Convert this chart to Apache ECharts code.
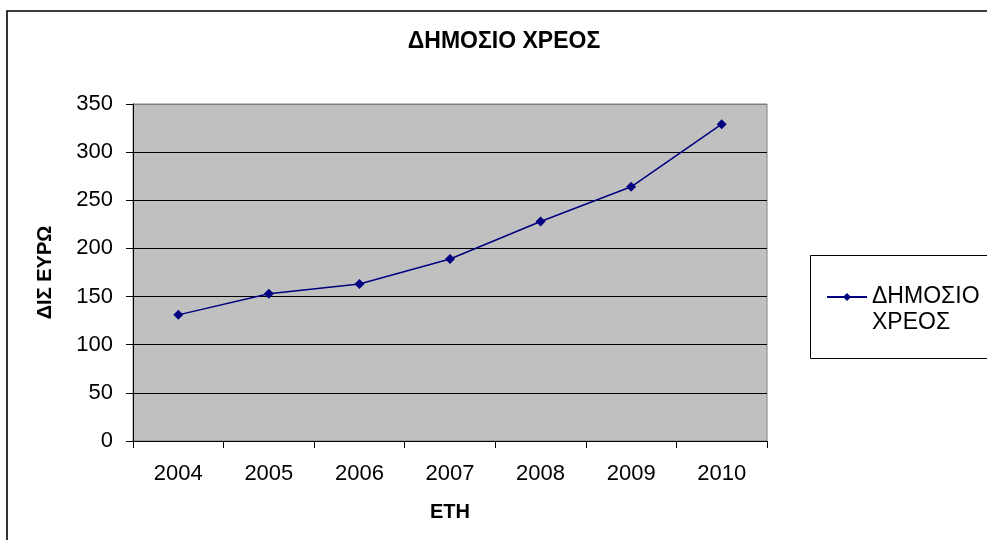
<!DOCTYPE html>
<html>
<head>
<meta charset="utf-8">
<script src="https://cdn.jsdelivr.net/npm/echarts@6/dist/echarts.min.js"></script>
<style>
  html, body { margin: 0; padding: 0; background: #fff; }
  #chart { width: 987px; height: 540px; }
</style>
</head>
<body>
<div id="chart"></div>
<script>
// Public debt, billion euro, by year
const years = ['2004', '2005', '2006', '2007', '2008', '2009', '2010'];
const debt = [131, 153, 163, 189, 228, 264, 329];
const seriesName = 'ΔΗΜΟΣΙΟ ΧΡΕΟΣ';
const yTicks = { min: 0, max: 350, step: 50 };

const FONT = '"Liberation Sans", Arial, sans-serif';
const chart = echarts.init(document.getElementById('chart'), null, { renderer: 'canvas' });

// grid lines: black, except the top one which merges with the plot border
const tickCount = (yTicks.max - yTicks.min) / yTicks.step + 1;
const gridColors = [];
for (let i = 0; i < tickCount; i++) gridColors.push(i === tickCount - 1 ? '#808080' : '#000000');

chart.setOption({
  backgroundColor: '#ffffff',
  animation: false,
  textStyle: { fontFamily: FONT },
  title: {
    text: 'ΔΗΜΟΣΙΟ ΧΡΕΟΣ',
    left: 504,
    top: 30,
    textAlign: 'center',
    padding: 0,
    textStyle: { fontFamily: FONT, fontSize: 23, fontWeight: 'bold', color: '#000' }
  },
  graphic: [
    {
      type: 'rect', z: 0, silent: true,
      shape: { x: 7, y: 11, width: 1000, height: 560 },
      style: { fill: 'none', stroke: '#000', lineWidth: 1.6 }
    },
    {
      type: 'rect', z: 0, silent: true,
      shape: { x: 810.5, y: 255.5, width: 200, height: 103 },
      style: { fill: '#fff', stroke: '#000', lineWidth: 1 }
    }
  ],
  legend: {
    left: 826,
    top: 258,
    padding: 0,
    orient: 'vertical',
    itemWidth: 40,
    itemHeight: 10,
    itemGap: 4,
    // leading blank line keeps the first word level with the legend symbol
    formatter: name => '\n' + name.replace(' ', '\n'),
    textStyle: { fontFamily: FONT, fontSize: 23, color: '#000', lineHeight: 26 },
    data: [seriesName]
  },
  grid: {
    left: 133, right: 220, top: 104, bottom: 99,
    show: true,
    backgroundColor: '#C0C0C0',
    borderColor: '#808080',
    borderWidth: 1
  },
  xAxis: {
    type: 'category',
    data: years,
    boundaryGap: true,
    name: 'ΕΤΗ',
    nameLocation: 'middle',
    nameGap: 61,
    nameTextStyle: { fontFamily: FONT, fontSize: 20, fontWeight: 'bold', color: '#000' },
    axisLine: { show: true, lineStyle: { color: '#000', width: 1 } },
    axisTick: { show: true, length: 7, interval: 0, lineStyle: { color: '#000' } },
    axisLabel: { margin: 22, fontFamily: FONT, fontSize: 22, color: '#000', interval: 0 },
    splitLine: { show: false }
  },
  yAxis: {
    type: 'value',
    min: yTicks.min,
    max: yTicks.max,
    interval: yTicks.step,
    name: 'ΔΙΣ ΕΥΡΩ',
    nameLocation: 'middle',
    nameGap: 78,
    nameRotate: 90,
    nameTextStyle: { fontFamily: FONT, fontSize: 20, fontWeight: 'bold', color: '#000' },
    axisLine: { show: true, lineStyle: { color: '#000', width: 1 } },
    axisTick: { show: true, length: 7, lineStyle: { color: '#000' } },
    axisLabel: { margin: 20, fontFamily: FONT, fontSize: 22, color: '#000' },
    splitLine: { show: true, lineStyle: { color: gridColors, width: 1 } }
  },
  series: [
    {
      name: seriesName,
      type: 'line',
      data: debt,
      symbol: 'diamond',
      symbolSize: 10,
      color: '#000080',
      lineStyle: { color: '#000080', width: 1.5 },
      itemStyle: { color: '#000080' }
    }
  ]
});
</script>
</body>
</html>
